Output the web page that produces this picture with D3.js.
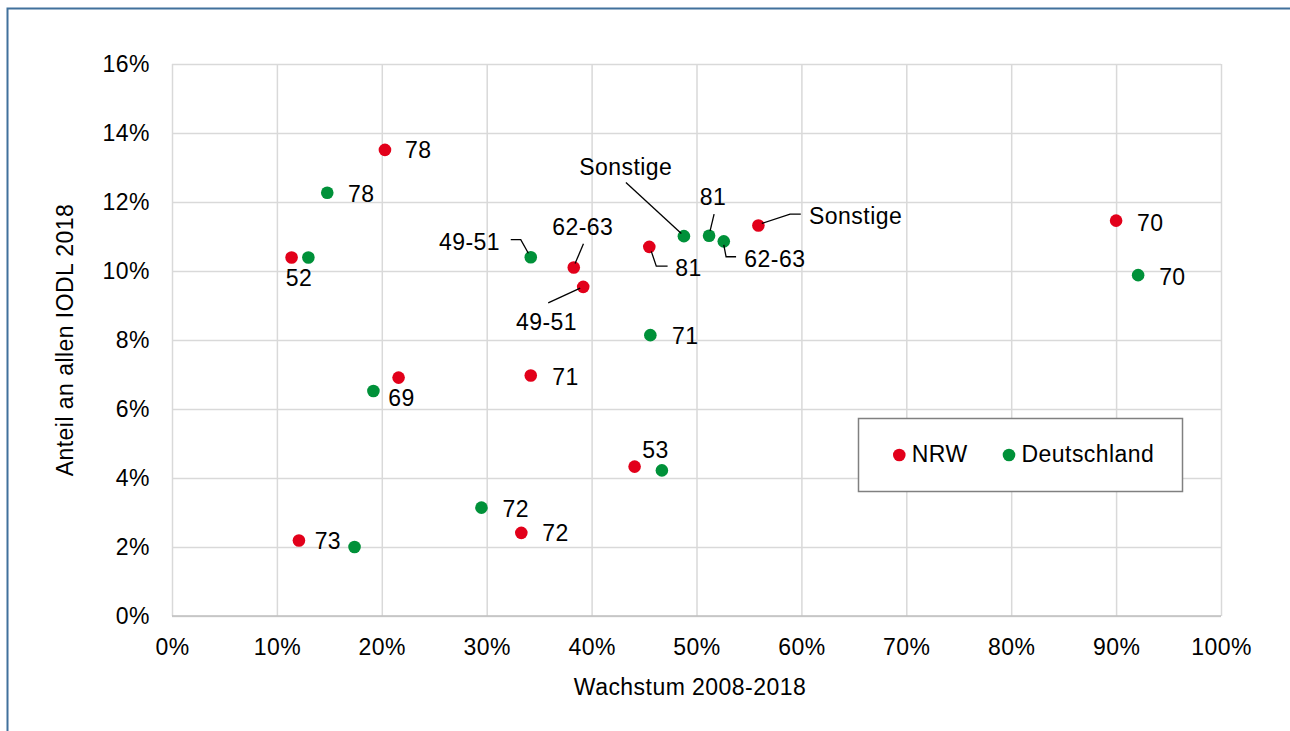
<!DOCTYPE html>
<html>
<head>
<meta charset="utf-8">
<script src="https://cdn.jsdelivr.net/npm/d3@7"></script>
<style>
  html, body { margin: 0; padding: 0; background: #fff; }
  svg { display: block; font-family: "Liberation Sans", Arial, Helvetica, sans-serif; }
  svg text { letter-spacing: 0.45px; }
</style>
</head>
<body>
<svg id="chart" width="1290" height="731"></svg>
<script>
// ---------- data ----------
const categories = ["78", "52", "62-63", "49-51", "81", "Sonstige", "70", "71", "69", "53", "72", "73"];
const nrwGrowth  = [20.3, 11.4, 38.3, 39.2, 45.5, 55.9, 90.0, 34.2, 21.6, 44.1, 33.3, 12.1];
const nrwShare   = [13.51, 10.39, 10.10, 9.54, 10.70, 11.32, 11.46, 6.97, 6.91, 4.33, 2.41, 2.19];
const deGrowth   = [14.8, 13.0, 52.6, 34.2, 51.2, 48.8, 92.1, 45.6, 19.2, 46.7, 29.5, 17.4];
const deShare    = [12.27, 10.39, 10.86, 10.40, 11.02, 11.01, 9.88, 8.14, 6.52, 4.22, 3.14, 2.00];
const seriesNames = ["NRW", "Deutschland"];
const xTicks = [0, 10, 20, 30, 40, 50, 60, 70, 80, 90, 100];
const yTicks = [0, 2, 4, 6, 8, 10, 12, 14, 16];
const xTitle = "Wachstum 2008-2018";
const yTitle = "Anteil an allen IODL 2018";

// ---------- label layout (pixel offsets from the point) ----------
const nrwLabelLayout = [
  {dx: 20, dy: 0, a: "start"},
  {dx: 7.5, dy: 20.5, a: "middle"},
  {dx: 9, dy: -41, a: "middle", lead: [[9.7, -23.7], [1.3, -4]]},
  {dx: -36.7, dy: 35, a: "middle", lead: [[-35, 16], [-3, 1.2]]},
  {dx: 26, dy: 21, a: "start", lead: [[2, 4.5], [7, 19.3], [18.3, 19.3]]},
  {dx: 50.7, dy: -9.3, a: "start", lead: [[3.4, -2], [31.7, -11.3], [42.4, -11.3]]},
  {dx: 21, dy: 1.6, a: "start"},
  {dx: 21.4, dy: 1.6, a: "start"},
  {dx: 3, dy: 20.6, a: "middle"},
  null,
  {dx: 21, dy: 0.3, a: "start"},
  {dx: 15.7, dy: 0, a: "start"}
];
const deLabelLayout = [
  {dx: 20.7, dy: 0.6, a: "start"},
  null,
  {dx: 20.6, dy: 17, a: "start", lead: [[0, 3.5], [2.3, 15.4], [12.3, 15.4]]},
  {dx: -30.7, dy: -15.6, a: "end", lead: [[-20, -17.6], [-10, -17.6], [-2.4, -4]]},
  {dx: 4, dy: -39, a: "middle", lead: [[5, -21.7], [1, -5]]},
  {dx: -58.2, dy: -69.6, a: "middle", lead: [[-58, -53.6], [-2.6, -2.6]]},
  {dx: 21, dy: 1.4, a: "start"},
  {dx: 21.7, dy: 1, a: "start"},
  null,
  {dx: -6.3, dy: -21, a: "middle"},
  {dx: 21, dy: 1.3, a: "start"},
  null
];

// ---------- setup ----------
const W = 1290, H = 731;
const FS = 23;
const RED = "#e2001a", GREEN = "#009139";
const svg = d3.select("#chart");
const plot = {left: 172, right: 1221, top: 64, bottom: 616};

const x = d3.scaleLinear().domain([0, 100]).range([plot.left, plot.right]);
const y = d3.scaleLinear().domain([0, 16]).range([plot.bottom, plot.top]);

// outer frame
svg.append("path")
  .attr("d", `M7.5,${H} V8.5 H${W}`)
  .attr("fill", "none").attr("stroke", "#41719c").attr("stroke-width", 2);

// y axis with gridlines
const yAxis = svg.append("g").attr("transform", `translate(${plot.left},0)`)
  .call(d3.axisLeft(y).tickValues(yTicks).tickFormat(d => d + "%")
        .tickSize(-(plot.right - plot.left)).tickPadding(22));
yAxis.select(".domain").remove();
yAxis.selectAll(".tick line").attr("stroke", "#d9d9d9").attr("stroke-width", 1.5);
yAxis.selectAll(".tick text").attr("font-size", FS).attr("fill", "#000")
  .attr("font-family", "Liberation Sans, Arial, sans-serif");

// x axis with gridlines
const xAxis = svg.append("g").attr("transform", `translate(0,${plot.bottom})`)
  .call(d3.axisBottom(x).tickValues(xTicks).tickFormat(d => d + "%")
        .tickSize(-(plot.bottom - plot.top)).tickPadding(23));
xAxis.select(".domain").remove();
xAxis.selectAll(".tick line").attr("stroke", "#d9d9d9").attr("stroke-width", 1.5);
xAxis.selectAll(".tick text").attr("font-size", FS).attr("fill", "#000")
  .attr("font-family", "Liberation Sans, Arial, sans-serif");

// baseline (x axis line)
svg.append("line")
  .attr("x1", x(0)).attr("x2", x(100)).attr("y1", y(0)).attr("y2", y(0))
  .attr("stroke", "#bfbfbf").attr("stroke-width", 1.5);

// axis titles
svg.append("text").text(xTitle)
  .attr("x", 690).attr("y", 687 + 0.36 * FS)
  .attr("text-anchor", "middle").attr("font-size", FS).attr("fill", "#000");
svg.append("text").text(yTitle)
  .attr("transform", `translate(${65 + 0.36 * FS},${(plot.top + plot.bottom) / 2}) rotate(-90)`)
  .attr("text-anchor", "middle").attr("font-size", FS).attr("fill", "#000");

// ---------- series ----------
const series = [
  {name: seriesNames[0], color: RED, gx: nrwGrowth, gy: nrwShare, layout: nrwLabelLayout},
  {name: seriesNames[1], color: GREEN, gx: deGrowth, gy: deShare, layout: deLabelLayout}
];

series.forEach(s => {
  const pts = categories.map((c, i) => ({cat: c, x: s.gx[i], y: s.gy[i], lay: s.layout[i]}));
  const g = svg.append("g");
  g.selectAll("circle").data(pts).enter().append("circle")
    .attr("cx", d => x(d.x)).attr("cy", d => y(d.y)).attr("r", 6.3)
    .attr("fill", s.color);
});

series.forEach(s => {
  const pts = categories.map((c, i) => ({cat: c, x: s.gx[i], y: s.gy[i], lay: s.layout[i]}))
    .filter(d => d.lay);
  const g = svg.append("g");
  g.selectAll("path").data(pts.filter(d => d.lay.lead)).enter().append("path")
    .attr("d", d => d3.line()(d.lay.lead.map(p => [x(d.x) + p[0], y(d.y) + p[1]])))
    .attr("fill", "none").attr("stroke", "#000").attr("stroke-width", 1.3);
  g.selectAll("text").data(pts).enter().append("text")
    .text(d => d.cat)
    .attr("x", d => x(d.x) + d.lay.dx)
    .attr("y", d => y(d.y) + d.lay.dy + 0.36 * FS)
    .attr("text-anchor", d => d.lay.a)
    .attr("font-size", FS).attr("fill", "#000");
});

// ---------- legend ----------
const leg = svg.append("g");
leg.append("rect").attr("x", 858.5).attr("y", 418.5).attr("width", 324).attr("height", 73)
  .attr("fill", "#fff").attr("stroke", "#808080").attr("stroke-width", 1.5);
const legX = [899.3, 1009];
series.forEach((s, i) => {
  leg.append("circle").attr("cx", legX[i]).attr("cy", 455).attr("r", 6.3).attr("fill", s.color);
  leg.append("text").text(s.name).attr("x", legX[i] + 12.5).attr("y", 454 + 0.36 * FS)
    .attr("font-size", FS).attr("fill", "#000");
});
</script>
</body>
</html>
